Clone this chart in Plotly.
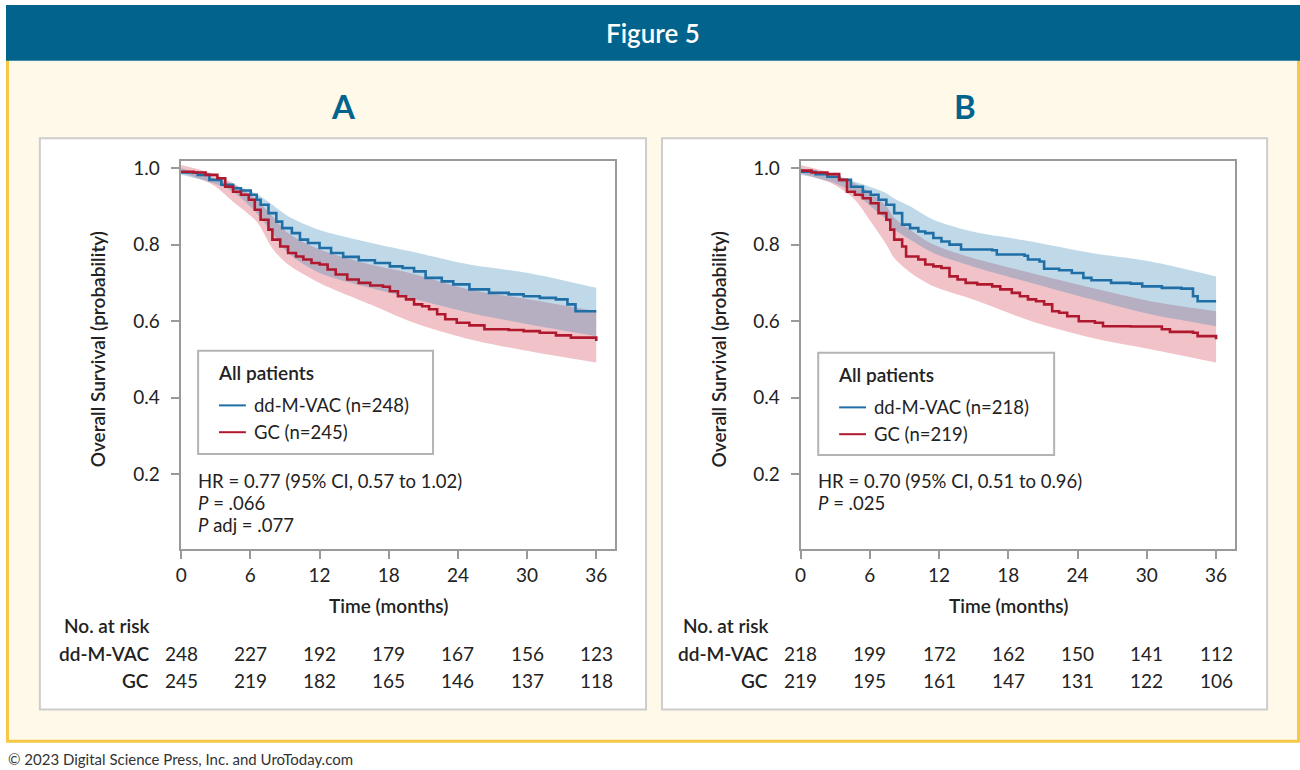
import plotly.graph_objects as go

W, H = 1300, 770

# ---------------- data ----------------
x_ticks = [0, 6, 12, 18, 24, 30, 36]
y_ticks = [0.2, 0.4, 0.6, 0.8, 1.0]
y_tick_labels = ["0.2", "0.4", "0.6", "0.8", "1.0"]

# Panel A – all patients
a_ddmvac_t = [0, 1.43, 2.45, 3.48, 4.5, 5.18, 6.03, 6.55, 6.89, 7.57, 8.25, 8.76, 9.6, 10.3, 11.0,
              12.0, 13.0, 14.05, 15.4, 16.8, 18.1, 19.2, 20.2, 21.2, 22.6, 23.6, 25.0, 26.7, 28.4,
              29.7, 31.1, 32.5, 33.5, 34.2, 36]
a_ddmvac_s = [0.988, 0.982, 0.969, 0.956, 0.947, 0.941, 0.930, 0.917, 0.904, 0.882, 0.860, 0.843,
              0.830, 0.813, 0.804, 0.791, 0.778, 0.768, 0.759, 0.752, 0.743, 0.739, 0.730, 0.713,
              0.704, 0.696, 0.683, 0.674, 0.670, 0.665, 0.661, 0.657, 0.644, 0.626, 0.626]
a_gc_t = [0, 1.09, 2.11, 3.14, 3.82, 4.5, 5.18, 5.86, 6.38, 6.89, 7.57, 7.91, 8.59, 9.27, 9.96,
          10.6, 11.3, 12.0, 12.7, 13.4, 14.4, 15.4, 16.4, 17.5, 18.1, 18.8, 19.5, 20.2, 20.9,
          21.5, 22.2, 22.9, 23.9, 25.0, 26.3, 28.4, 29.7, 31.1, 32.5, 33.8, 36]
a_gc_s = [0.990, 0.988, 0.982, 0.973, 0.951, 0.938, 0.930, 0.917, 0.891, 0.865, 0.839, 0.813,
          0.795, 0.778, 0.769, 0.761, 0.752, 0.748, 0.735, 0.722, 0.709, 0.700, 0.693, 0.690,
          0.678, 0.665, 0.657, 0.644, 0.639, 0.631, 0.618, 0.605, 0.596, 0.589, 0.579, 0.577,
          0.574, 0.570, 0.563, 0.557, 0.548]
a_band_t = [0, 2.8, 4.5, 6.55, 7.91, 9.27, 12.0, 16.4, 19.8, 25.0, 30.1, 36]
a_ddmvac_hi = [1.000, 0.973, 0.957, 0.932, 0.904, 0.874, 0.838, 0.805, 0.783, 0.748, 0.726, 0.687]
a_ddmvac_lo = [0.982, 0.960, 0.938, 0.882, 0.830, 0.778, 0.726, 0.687, 0.661, 0.622, 0.592, 0.561]
a_gc_hi = [1.008, 0.985, 0.960, 0.917, 0.874, 0.830, 0.787, 0.748, 0.726, 0.683, 0.657, 0.626]
a_gc_lo = [0.988, 0.955, 0.912, 0.860, 0.790, 0.748, 0.700, 0.644, 0.600, 0.553, 0.522, 0.492]
a_risk_ddmvac = [248, 227, 192, 179, 167, 156, 123]
a_risk_gc = [245, 219, 182, 165, 146, 137, 118]

# Panel B
b_ddmvac_t = [0, 1.30, 2.32, 3.34, 4.36, 5.39, 6.07, 6.75, 7.43, 8.11, 8.80, 9.48, 10.2, 10.8,
              11.5, 12.2, 12.9, 13.9, 16.6, 17.0, 19.4, 19.7, 20.7, 21.1, 22.4, 23.5, 24.5, 25.2,
              26.9, 28.6, 29.6, 31.3, 33.0, 34.0, 34.4, 36]
b_ddmvac_s = [0.990, 0.984, 0.977, 0.969, 0.951, 0.938, 0.930, 0.917, 0.904, 0.882, 0.852, 0.843,
              0.834, 0.830, 0.817, 0.808, 0.800, 0.787, 0.785, 0.774, 0.771, 0.761, 0.756, 0.737,
              0.733, 0.726, 0.713, 0.707, 0.700, 0.698, 0.691, 0.687, 0.685, 0.665, 0.652, 0.652]
b_gc_t = [0, 0.95, 2.32, 3.34, 4.02, 4.70, 5.39, 6.07, 6.75, 7.43, 7.77, 8.11, 8.80, 9.14, 10.2,
          10.8, 11.5, 12.2, 12.9, 13.6, 14.3, 15.3, 16.6, 17.3, 18.3, 19.0, 19.7, 20.4, 21.1,
          21.8, 22.4, 23.1, 24.1, 25.5, 26.2, 28.6, 31.3, 32.0, 34.0, 34.4, 36]
b_gc_s = [0.993, 0.988, 0.984, 0.969, 0.938, 0.930, 0.921, 0.908, 0.882, 0.865, 0.839, 0.813,
          0.795, 0.769, 0.761, 0.748, 0.743, 0.739, 0.717, 0.709, 0.700, 0.696, 0.691, 0.683,
          0.674, 0.665, 0.657, 0.652, 0.644, 0.626, 0.622, 0.613, 0.600, 0.596, 0.587, 0.586,
          0.579, 0.572, 0.570, 0.561, 0.553]
b_band_t = [0, 2.8, 4.7, 6.07, 7.43, 8.11, 9.48, 11.5, 14.9, 20.0, 25.2, 30.3, 36]
b_ddmvac_hi = [0.999, 0.978, 0.964, 0.950, 0.934, 0.920, 0.900, 0.865, 0.834, 0.808, 0.778, 0.756, 0.717]
b_ddmvac_lo = [0.982, 0.962, 0.934, 0.900, 0.865, 0.840, 0.813, 0.778, 0.743, 0.700, 0.657, 0.618, 0.587]
b_gc_hi = [1.008, 0.985, 0.960, 0.935, 0.900, 0.870, 0.839, 0.800, 0.765, 0.726, 0.687, 0.652, 0.626]
b_gc_lo = [0.986, 0.958, 0.917, 0.860, 0.800, 0.765, 0.728, 0.691, 0.657, 0.600, 0.557, 0.527, 0.492]
b_risk_ddmvac = [218, 199, 172, 162, 150, 141, 112]
b_risk_gc = [219, 195, 161, 147, 131, 122, 106]

panels = [
    dict(label="A", n_dd=248, n_gc=245,
         dd_t=a_ddmvac_t, dd_s=a_ddmvac_s, gc_t=a_gc_t, gc_s=a_gc_s,
         band_t=a_band_t, dd_hi=a_ddmvac_hi, dd_lo=a_ddmvac_lo, gc_hi=a_gc_hi, gc_lo=a_gc_lo,
         risk_dd=a_risk_ddmvac, risk_gc=a_risk_gc,
         stats=["HR = 0.77 (95% CI, 0.57 to 1.02)", "<i>P</i> = .066", "<i>P</i> adj = .077"]),
    dict(label="B", n_dd=218, n_gc=219,
         dd_t=b_ddmvac_t, dd_s=b_ddmvac_s, gc_t=b_gc_t, gc_s=b_gc_s,
         band_t=b_band_t, dd_hi=b_ddmvac_hi, dd_lo=b_ddmvac_lo, gc_hi=b_gc_hi, gc_lo=b_gc_lo,
         risk_dd=b_risk_ddmvac, risk_gc=b_risk_gc,
         stats=["HR = 0.70 (95% CI, 0.51 to 0.96)", "<i>P</i> = .025"]),
]

# ---------------- styling ----------------
FONT = "Lato, 'Open Sans', sans-serif"
TEXT = "#222222"
TEAL = "#02648C"
BLUE = "#1F6FA6"
RED = "#B0182E"
BLUE_FILL = "rgba(45,128,178,0.30)"
RED_FILL = "rgba(208,55,75,0.30)"
AXIS = "#9a9a9a"
FS = 19


def px(x):
    return x / W


def py(y):
    return 1 - y / H


fig = go.Figure()
shapes = []
ann = []

# background / frame
shapes.append(dict(type="rect", xref="paper", yref="paper", x0=px(1.5), x1=px(1298.5),
                   y0=py(741), y1=py(50), fillcolor="#FFF9EA",
                   line=dict(color="#F5C945", width=3), layer="below"))
shapes.append(dict(type="rect", xref="paper", yref="paper", x0=0, x1=1, y0=py(56), y1=1,
                   fillcolor=TEAL, line=dict(width=0), layer="below"))
ann.append(dict(text="Figure 5", x=0.5, y=py(28), xref="paper", yref="paper", showarrow=False,
                xanchor="center", yanchor="middle",
                font=dict(family=FONT, size=26, color="white", weight=600)))
ann.append(dict(text="© 2023 Digital Science Press, Inc. and UroToday.com", x=0, y=py(759),
                xref="paper", yref="paper", showarrow=False, xanchor="left", yanchor="middle",
                font=dict(family=FONT, size=15, color="#333333")))

# geometry per panel (pixels)
geo = [
    dict(box=(34, 643), plot=(175.5, 612), x0px=176.0, x36px=593.0, title_x=339, ylab_x=92,
         leg=(193, 429, 348, 452), text_x=191, risk_lab_x=146),
    dict(box=(659, 1267), plot=(798.3, 1235), x0px=798.3, x36px=1215.7, title_x=963, ylab_x=716,
         leg=(816, 1053, 350, 453), text_x=814, risk_lab_x=768),
]
PLOT_TOP, PLOT_BOT = 156.7, 547.7
Y_RANGE = [0.005, 1.019]

for i, (p, g) in enumerate(zip(panels, geo)):
    xa = "x" if i == 0 else "x2"
    ya = "y" if i == 0 else "y2"
    # panel box
    shapes.append(dict(type="rect", xref="paper", yref="paper", x0=px(g["box"][0]), x1=px(g["box"][1]),
                       y0=py(709), y1=py(134), fillcolor="white",
                       line=dict(color="#CDCDCD", width=2), layer="below"))
    ann.append(dict(text=p["label"], x=px(g["title_x"]), y=py(102), xref="paper", yref="paper",
                    showarrow=False, xanchor="center", yanchor="middle",
                    font=dict(family=FONT, size=33, color=TEAL, weight=700)))

    # CI bands (red first, blue over it)
    sm = dict(width=0, shape="spline", smoothing=0.8)
    fig.add_trace(go.Scatter(x=p["band_t"], y=p["gc_lo"], mode="lines", line=sm,
                             hoverinfo="skip", showlegend=False, xaxis=xa, yaxis=ya))
    fig.add_trace(go.Scatter(x=p["band_t"], y=p["gc_hi"], mode="lines", line=sm,
                             fill="tonexty", fillcolor=RED_FILL, hoverinfo="skip", showlegend=False,
                             xaxis=xa, yaxis=ya))
    fig.add_trace(go.Scatter(x=p["band_t"], y=p["dd_lo"], mode="lines", line=sm,
                             hoverinfo="skip", showlegend=False, xaxis=xa, yaxis=ya))
    fig.add_trace(go.Scatter(x=p["band_t"], y=p["dd_hi"], mode="lines", line=sm,
                             fill="tonexty", fillcolor=BLUE_FILL, hoverinfo="skip", showlegend=False,
                             xaxis=xa, yaxis=ya))
    # KM curves
    fig.add_trace(go.Scatter(x=p["dd_t"], y=p["dd_s"], mode="lines", line=dict(color=BLUE, width=2.6, shape="hv"),
                             name=f"dd-M-VAC (n={p['n_dd']})", showlegend=False, xaxis=xa, yaxis=ya))
    fig.add_trace(go.Scatter(x=p["gc_t"], y=p["gc_s"], mode="lines", line=dict(color=RED, width=2.6, shape="hv"),
                             name=f"GC (n={p['n_gc']})", showlegend=False, xaxis=xa, yaxis=ya))

    # axes
    xdom = [px(g["plot"][0]), px(g["plot"][1])]
    pxpm = (g["x36px"] - g["x0px"]) / 36.0
    xr = [(g["plot"][0] - g["x0px"]) / pxpm, (g["plot"][1] - g["x0px"]) / pxpm]
    axis_common = dict(showgrid=False, zeroline=False, showline=True, mirror=True, linecolor=AXIS,
                       linewidth=2, ticks="outside", ticklen=8, tickwidth=2, tickcolor=AXIS,
                       tickfont=dict(family=FONT, size=FS, color=TEXT))
    fig.layout["xaxis" if i == 0 else "xaxis2"] = dict(domain=xdom, range=xr, anchor=ya,
                                                       tickvals=x_ticks, ticktext=[str(v) for v in x_ticks],
                                                       **axis_common)
    fig.layout["yaxis" if i == 0 else "yaxis2"] = dict(domain=[py(PLOT_BOT), py(PLOT_TOP)], range=Y_RANGE,
                                                       anchor=xa, tickvals=y_ticks, ticktext=y_tick_labels,
                                                       ticklabelstandoff=7, **axis_common)

    # axis titles
    cx = (g["x0px"] + g["x36px"]) / 2
    ann.append(dict(text="Time (months)", x=px(cx), y=py(604), xref="paper", yref="paper", showarrow=False,
                    xanchor="center", yanchor="middle", font=dict(family=FONT, size=FS, color=TEXT, weight=600)))
    ann.append(dict(text="Overall Survival (probability)", x=px(g["ylab_x"]), y=py(347), xref="paper",
                    yref="paper", showarrow=False, textangle=-90, xanchor="center", yanchor="middle",
                    font=dict(family=FONT, size=FS, color=TEXT, weight=600)))

    # legend box
    lx0, lx1, ly0, ly1 = g["leg"]
    shapes.append(dict(type="rect", xref="paper", yref="paper", x0=px(lx0), x1=px(lx1), y0=py(ly1), y1=py(ly0),
                       fillcolor="white", line=dict(color="#B4B4B4", width=2)))
    ann.append(dict(text="All patients", x=px(lx0 + 18), y=py(ly0 + 22), xref="paper", yref="paper",
                    showarrow=False, xanchor="left", yanchor="middle",
                    font=dict(family=FONT, size=FS, color=TEXT, weight=600)))
    for k, (lab, col) in enumerate([(f"dd-M-VAC (n={p['n_dd']})", BLUE), (f"GC (n={p['n_gc']})", RED)]):
        yy = ly0 + 55 + 27 * k
        shapes.append(dict(type="line", xref="paper", yref="paper", x0=px(lx0 + 21), x1=px(lx0 + 48),
                           y0=py(yy), y1=py(yy), line=dict(color=col, width=2)))
        ann.append(dict(text=lab, x=px(lx0 + 54), y=py(yy), xref="paper", yref="paper", showarrow=False,
                        xanchor="left", yanchor="middle", font=dict(family=FONT, size=18.5, color=TEXT)))

    # statistics text
    for k, s in enumerate(p["stats"]):
        ann.append(dict(text=s, x=px(g["text_x"]), y=py(479 + 22 * k), xref="paper", yref="paper",
                        showarrow=False, xanchor="left", yanchor="middle",
                        font=dict(family=FONT, size=18.5, color=TEXT)))

    # number at risk table
    ann.append(dict(text="No. at risk", x=px(g["risk_lab_x"] - 90), y=py(625), xref="paper", yref="paper",
                    showarrow=False, xanchor="left", yanchor="middle",
                    font=dict(family=FONT, size=FS, color=TEXT, weight=600)))
    for lab, vals, yy in [("dd-M-VAC", p["risk_dd"], 652.5), ("GC", p["risk_gc"], 680)]:
        ann.append(dict(text=lab, x=px(g["risk_lab_x"]), y=py(yy), xref="paper", yref="paper",
                        showarrow=False, xanchor="right", yanchor="middle",
                        font=dict(family=FONT, size=FS, color=TEXT, weight=600)))
        for t, v in zip(x_ticks, vals):
            ann.append(dict(text=str(v), x=t, xref=xa, y=py(yy), yref="paper", showarrow=False,
                            xanchor="center", yanchor="middle", font=dict(family=FONT, size=FS, color=TEXT)))

fig.update_layout(width=W, height=H, margin=dict(l=0, r=0, t=0, b=0),
                  paper_bgcolor="white", plot_bgcolor="rgba(0,0,0,0)",
                  shapes=shapes, annotations=ann, showlegend=False,
                  font=dict(family=FONT, color=TEXT))

fig.write_html("out.html")
